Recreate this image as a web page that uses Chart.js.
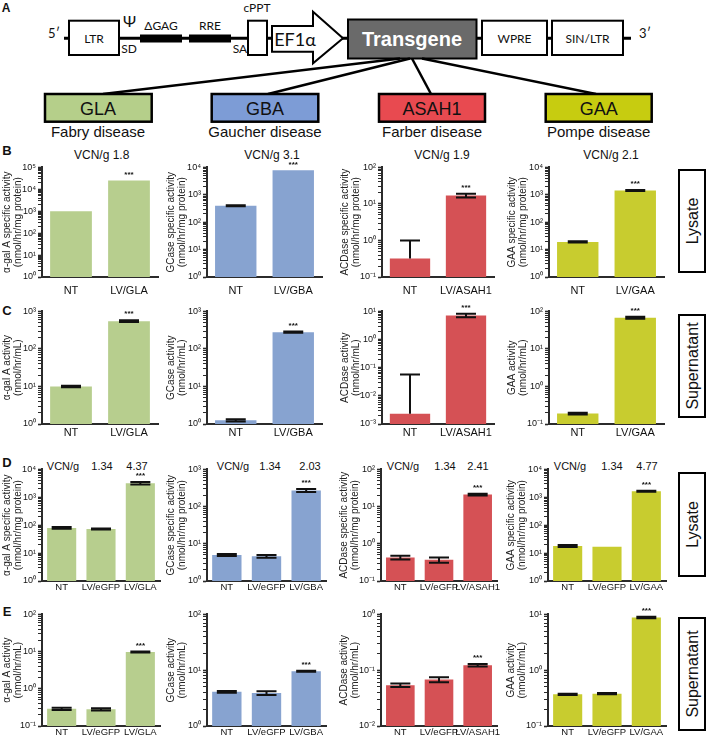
<!DOCTYPE html>
<html>
<head>
<title>LV lysosomal enzyme activity</title>
<style>
  body { margin: 0; background: #fff; }
  #page { position: relative; width: 708px; height: 737px; overflow: hidden; }
  #page canvas { position: absolute; }
  #art { position: absolute; left: 0; top: 0; }
  .sch { font-family: Lato, "Open Sans", sans-serif; fill: #111; }
  .arial { font-family: "Liberation Sans", Arial, sans-serif; fill: #111; }
</style>
</head>
<body>
<div id="page">
<svg id="art" width="708" height="737" text-anchor="middle" dominant-baseline="central">
  <!-- vector schematic -->
  <text class="arial" x="6" y="8" font-size="12" font-weight="bold">A</text>
  <line x1="64" y1="38.3" x2="631" y2="38.3" stroke="#000" stroke-width="3"/>
  <text class="sch" x="54" y="33" font-size="13">5′</text>
  <text class="sch" x="645" y="33" font-size="13">3′</text>
  <rect x="69" y="20.7" width="50" height="34.3" fill="#fff" stroke="#000" stroke-width="2"/>
  <text class="sch" x="94" y="38" font-size="12">LTR</text>
  <text class="sch" x="129.5" y="20" font-size="16">Ψ</text>
  <text class="sch" x="129" y="48" font-size="12">SD</text>
  <rect x="140" y="34.5" width="42" height="8" fill="#000"/>
  <text class="sch" x="161" y="25" font-size="12">ΔGAG</text>
  <rect x="189" y="34.5" width="42" height="8" fill="#000"/>
  <text class="sch" x="210" y="25" font-size="12">RRE</text>
  <text class="sch" x="240" y="48" font-size="12">SA</text>
  <rect x="248" y="20.7" width="19" height="34.3" fill="#fff" stroke="#000" stroke-width="2"/>
  <text class="sch" x="257" y="7" font-size="12">cPPT</text>
  <polygon points="272,26 313,26 313,11.7 343,38.3 313,63.3 313,51.7 272,51.7" fill="#fff" stroke="#000" stroke-width="2"/>
  <text class="sch" x="295" y="39" font-size="18">EF1α</text>
  <rect x="348" y="19.5" width="128.5" height="39" fill="#6a6a6a" stroke="#000" stroke-width="2"/>
  <text class="arial" x="412" y="39" font-size="20" font-weight="bold" style="fill:#fff">Transgene</text>
  <rect x="482" y="20.7" width="65" height="34.3" fill="#fff" stroke="#000" stroke-width="2"/>
  <text class="sch" x="514.5" y="38" font-size="12">WPRE</text>
  <rect x="552" y="20.7" width="71" height="34.3" fill="#fff" stroke="#000" stroke-width="2"/>
  <text class="sch" x="587.5" y="38" font-size="12">SIN/LTR</text>
  <g stroke="#000" stroke-width="2.5">
    <line x1="400" y1="58.5" x2="103" y2="94"/>
    <line x1="410" y1="58.5" x2="268" y2="94"/>
    <line x1="412" y1="58.5" x2="431" y2="94"/>
    <line x1="422" y1="58.5" x2="596" y2="94"/>
  </g>
  <g stroke="#000" stroke-width="2.5">
    <rect x="45" y="94" width="106.7" height="27.7" fill="#b5cf8a"/>
    <rect x="211.7" y="94" width="106.6" height="27.7" fill="#7d9cd6"/>
    <rect x="379" y="94" width="106" height="27.7" fill="#e84a50"/>
    <rect x="545.7" y="94" width="106" height="27.7" fill="#c7cc10"/>
  </g>
  <g class="arial" font-size="18">
    <text class="arial" x="98" y="108.5">GLA</text>
    <text class="arial" x="265" y="108.5">GBA</text>
    <text class="arial" x="432" y="108.5">ASAH1</text>
    <text class="arial" x="598.7" y="108.5">GAA</text>
  </g>
  <g font-size="15">
    <text class="arial" x="98" y="131">Fabry disease</text>
    <text class="arial" x="265" y="131">Gaucher disease</text>
    <text class="arial" x="432" y="131">Farber disease</text>
    <text class="arial" x="598.7" y="131">Pompe disease</text>
  </g>
  <!-- panel letters -->
  <g font-size="13" font-weight="bold">
    <text class="arial" x="7" y="150">B</text>
    <text class="arial" x="7" y="310">C</text>
    <text class="arial" x="7" y="462">D</text>
    <text class="arial" x="7" y="611">E</text>
  </g>
  <g id="vcn"></g>
  <!-- sample type boxes -->
  <g stroke="#000" stroke-width="2" fill="#fff">
    <rect x="679" y="170" width="26" height="102"/>
    <rect x="679" y="315" width="26" height="102"/>
    <rect x="679" y="473" width="26" height="103"/>
    <rect x="679" y="618" width="26" height="112"/>
  </g>
  <g font-size="16">
    <text class="arial" transform="translate(692.5 221) rotate(-90)">Lysate</text>
    <text class="arial" transform="translate(692.5 366) rotate(-90)">Supernatant</text>
    <text class="arial" transform="translate(692.5 524.5) rotate(-90)">Lysate</text>
    <text class="arial" transform="translate(692.5 674) rotate(-90)">Supernatant</text>
  </g>
</svg>
</div>
<script src="https://cdn.jsdelivr.net/npm/chart.js@4.4.0/dist/chart.umd.min.js"></script>
<script>
// categories
const twoGLA = ['NT', 'LV/GLA'];
const twoGBA = ['NT', 'LV/GBA'];
const twoASAH1 = ['NT', 'LV/ASAH1'];
const twoGAA = ['NT', 'LV/GAA'];
const threeGLA = ['NT', 'LV/eGFP', 'LV/GLA'];
const threeGBA = ['NT', 'LV/eGFP', 'LV/GBA'];
const threeASAH1 = ['NT', 'LV/eGFP', 'LV/ASAH1'];
const threeGAA = ['NT', 'LV/eGFP', 'LV/GAA'];

// B - lysate
const bGLA = [1000, 25000], bGLAerr = [0, 0];
const bGBA = [400, 7800], bGBAerr = [18, 0];
const bASAH1 = [0.32, 17], bASAH1err = [0.68, 2];
const bGAA = [19, 1450], bGAAerr = [1, 60];
// C - supernatant
const cGLA = [10, 550], cGLAerr = [0.4, 30];
const cGBA = [1.25, 280], cGBAerr = [0.08, 10];
const cASAH1 = [0.0023, 7.2], cASAH1err = [0.055, 1];
const cGAA = [0.19, 68], cGAAerr = [0.01, 4];
// D - lysate
const dGLA = [80, 73, 3200], dGLAerr = [6, 3, 300];
const dGBA = [5.0, 4.6, 270], dGBAerr = [0.3, 0.4, 25];
const dASAH1 = [0.43, 0.37, 21], dASAH1err = [0.05, 0.06, 1.2];
const dGAA = [18, 17, 1650], dGAAerr = [1.5, 0, 80];
// E - supernatant
const eGLA = [0.29, 0.28, 9.7], eGLAerr = [0.02, 0.02, 0.3];
const eGBA = [4.1, 3.9, 9.6], eGBAerr = [0.15, 0.3, 0.2];
const eASAH1 = [0.054, 0.068, 0.123], eASAH1err = [0.004, 0.007, 0.006];
const eGAA = [0.37, 0.38, 8.8], eGAAerr = [0.01, 0.01, 0.3];

// y ranges per row
const rangeB = [[1, 1e5], [1, 1e4], [0.1, 100], [1, 1e4]];
const rangeC = [[1, 1e3], [1, 1e3], [1e-3, 10], [0.1, 100]];
const rangeD = [[1, 1e4], [1, 1e3], [0.1, 100], [1, 1e4]];
const rangeE = [[0.1, 100], [1, 100], [0.01, 1], [0.1, 10]];

const titlesLysate = [
  ['α-gal A specific activity', '(nmol/hr/mg protein)'],
  ['GCase specific activity', '(nmol/hr/mg protein)'],
  ['ACDase specific activity', '(nmol/hr/mg protein)'],
  ['GAA specific activity', '(nmol/hr/mg protein)']
];
const titlesSup = [
  ['α-gal A activity', '(nmol/hr/mL)'],
  ['GCase activity', '(nmol/hr/mL)'],
  ['ACDase activity', '(nmol/hr/mL)'],
  ['GAA activity', '(nmol/hr/mL)']
];
const vcnB = ['VCN/g 1.8', 'VCN/g 3.1', 'VCN/g 1.9', 'VCN/g 2.1'];
const vcnD = [['1.34', '4.37'], ['1.34', '2.03'], ['1.34', '2.41'], ['1.34', '4.77']];

const colors = ['#b7ce8e', '#87a3d0', '#d55155', '#c8cc2f'];
const FONT = '"Liberation Sans", Arial, sans-serif';

// layout
const colX2 = [[42, 158], [207, 322], [382, 494], [549, 664]];
const colX3 = [[42, 160], [207, 326], [381, 497], [548, 666]];
const axisW = [40, 41, 42, 42];
const rowY = { B: [167, 277], C: [311, 424], D: [469, 581], E: [614, 726] };

const SUP = { '-': '⁻', '0': '⁰', '1': '¹', '2': '²', '3': '³', '4': '⁴', '5': '⁵', '6': '⁶', '7': '⁷', '8': '⁸', '9': '⁹' };
function supLabel(v) {
  const e = Math.log10(v);
  if (Math.abs(e - Math.round(e)) > 1e-6) return '';
  return '10' + String(Math.round(e)).split('').map(c => SUP[c]).join('');
}
function logTicks(min, max) {
  const out = [];
  for (let e = Math.floor(Math.log10(min)); e <= Math.ceil(Math.log10(max)); e++) {
    for (let k = 1; k <= 9; k++) {
      const v = k * Math.pow(10, e);
      if (v >= min * 0.999 && v <= max * 1.001) out.push({ value: v, major: k === 1 });
    }
  }
  return out;
}

const errorBars = {
  id: 'errorBars',
  afterDatasetsDraw(chart) {
    const ctx = chart.ctx, ys = chart.scales.y;
    const ds = chart.data.datasets[0];
    const bars = chart.getDatasetMeta(0).data;
    ctx.save();
    ctx.strokeStyle = '#111';
    ctx.fillStyle = '#111';
    ctx.lineWidth = 2;
    bars.forEach((bar, i) => {
      const v = ds.data[i], e = ds.errors[i];
      const cap = 10;
      let top = bar.y;
      if (e > 0) {
        top = ys.getPixelForValue(v + e);
        const lo = v - e > ys.min ? ys.getPixelForValue(v - e) : bar.y;
        ctx.beginPath();
        ctx.moveTo(bar.x, top);
        ctx.lineTo(bar.x, lo);
        ctx.moveTo(bar.x - cap, top);
        ctx.lineTo(bar.x + cap, top);
        if (v - e > ys.min) {
          ctx.moveTo(bar.x - cap, lo);
          ctx.lineTo(bar.x + cap, lo);
        }
        ctx.stroke();
      }
      if (ds.stars[i]) {
        ctx.font = 'bold 8px ' + FONT;
        ctx.textAlign = 'center';
        ctx.textBaseline = 'bottom';
        ctx.fillText(ds.stars[i], bar.x, top - 2);
      }
    });
    ctx.restore();
  }
};

const page = document.getElementById('page');

function makeChart(p) {
  const padTop = 7, padRight = 7, xH = 22;
  const c = document.createElement('canvas');
  const w = p.wy + (p.x1 - p.x0) + padRight;
  const h = padTop + (p.y1 - p.y0) + xH;
  c.width = w;
  c.height = h;
  c.style.left = (p.x0 - p.wy) + 'px';
  c.style.top = (p.y0 - padTop) + 'px';
  page.appendChild(c);
  const three = p.labels.length === 3;
  new Chart(c, {
    type: 'bar',
    data: {
      labels: p.labels,
      datasets: [{
        data: p.values,
        errors: p.errors,
        stars: p.labels.map((l, i) => (i === p.labels.length - 1 ? '***' : '')),
        backgroundColor: p.color,
        borderWidth: 0,
        barPercentage: three ? 0.74 : 0.72,
        categoryPercentage: 1
      }]
    },
    options: {
      responsive: false,
      animation: false,
      devicePixelRatio: 1,
      layout: { padding: { top: padTop, right: padRight, left: 0, bottom: 0 } },
      plugins: { legend: { display: false }, tooltip: { enabled: false } },
      scales: {
        x: {
          grid: { display: false, drawTicks: false },
          border: { color: '#2b2b2b', width: 2 },
          ticks: {
            color: '#111', padding: p.xPad, autoSkip: false, maxRotation: 0,
            font: { size: three ? 9.5 : 11, family: FONT }
          },
          afterFit: s => { s.height = xH; }
        },
        y: {
          type: 'logarithmic',
          min: p.range[0],
          max: p.range[1],
          grid: {
            display: true, drawOnChartArea: false, drawTicks: true, tickLength: 4,
            tickColor: '#2b2b2b',
            tickWidth: ctx => (ctx.tick && ctx.tick.major ? 1.6 : 1)
          },
          border: { color: '#2b2b2b', width: 2 },
          ticks: {
            autoSkip: false, padding: 2, color: '#111',
            font: { size: 9, family: FONT },
            callback: v => supLabel(v)
          },
          title: {
            display: true, text: p.title, color: '#222', padding: 0,
            font: { size: 10, family: FONT, lineHeight: 1.1 }
          },
          afterBuildTicks: s => { s.ticks = logTicks(s.min, s.max); },
          afterFit: s => { s.width = p.wy; }
        }
      }
    },
    plugins: [errorBars]
  });
}

const rows = [
  { key: 'B', labels: [twoGLA, twoGBA, twoASAH1, twoGAA], values: [bGLA, bGBA, bASAH1, bGAA],
    errors: [bGLAerr, bGBAerr, bASAH1err, bGAAerr], range: rangeB, titles: titlesLysate, xs: colX2, xPad: 7 },
  { key: 'C', labels: [twoGLA, twoGBA, twoASAH1, twoGAA], values: [cGLA, cGBA, cASAH1, cGAA],
    errors: [cGLAerr, cGBAerr, cASAH1err, cGAAerr], range: rangeC, titles: titlesSup, xs: colX2, xPad: 2 },
  { key: 'D', labels: [threeGLA, threeGBA, threeASAH1, threeGAA], values: [dGLA, dGBA, dASAH1, dGAA],
    errors: [dGLAerr, dGBAerr, dASAH1err, dGAAerr], range: rangeD, titles: titlesLysate, xs: colX3, xPad: 1 },
  { key: 'E', labels: [threeGLA, threeGBA, threeASAH1, threeGAA], values: [eGLA, eGBA, eASAH1, eGAA],
    errors: [eGLAerr, eGBAerr, eASAH1err, eGAAerr], range: rangeE, titles: titlesSup, xs: colX3, xPad: 1 }
];

rows.forEach(r => {
  for (let i = 0; i < 4; i++) {
    makeChart({
      labels: r.labels[i], values: r.values[i], errors: r.errors[i], range: r.range[i],
      title: r.titles[i], color: colors[i], xPad: r.xPad,
      x0: r.xs[i][0], x1: r.xs[i][1], y0: rowY[r.key][0], y1: rowY[r.key][1], wy: axisW[i]
    });
  }
});

// VCN annotations
const svgNS = 'http://www.w3.org/2000/svg';
const vcnG = document.getElementById('vcn');
function addText(x, y, str, size) {
  const t = document.createElementNS(svgNS, 'text');
  t.setAttribute('x', x);
  t.setAttribute('y', y);
  t.setAttribute('font-size', size);
  t.setAttribute('class', 'arial');
  t.textContent = str;
  vcnG.appendChild(t);
}
const vcnBx = [101.7, 272, 442, 611];
vcnB.forEach((s, i) => addText(vcnBx[i], 155, s, 12));
const vcnDx = [[63, 102, 137], [233, 270, 310], [403, 445, 478], [570, 612, 647]];
vcnD.forEach((pair, i) => {
  addText(vcnDx[i][0], 466, 'VCN/g', 11);
  addText(vcnDx[i][1], 466, pair[0], 11);
  addText(vcnDx[i][2], 466, pair[1], 11);
});
</script>
</body>
</html>
